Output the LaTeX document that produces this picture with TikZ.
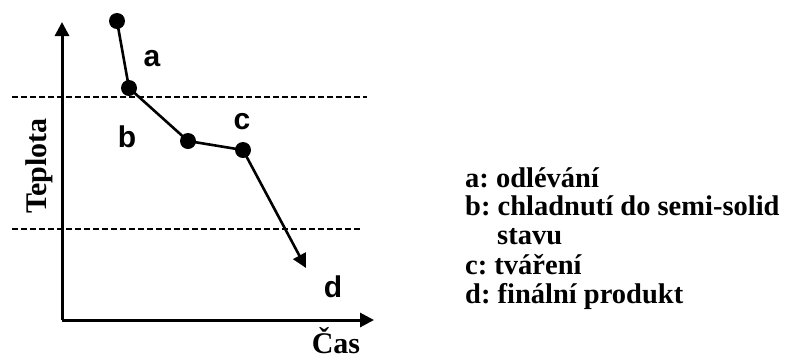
\documentclass[tikz,border=0pt]{standalone}
\usepackage{fontspec}
\setmainfont{Liberation Serif}
\newfontfamily\labfont{Liberation Sans}
\usetikzlibrary{arrows.meta}
\tikzset{
  axis/.style={line width=3pt, -{Triangle[length=14pt,width=14pt]}},
  limit/.style={line width=2.6pt, dash pattern=on 6pt off 3pt},
  curve/.style={line width=2.6pt},
  dot/.style={circle, fill=black, inner sep=0pt, minimum width=16pt, minimum height=14pt},
  seg/.style={font=\labfont\bfseries\fontsize{30}{30}\selectfont, inner sep=0pt},
  legend/.style={font=\bfseries\frenchspacing\fontsize{28.5}{29}\selectfont, anchor=base west, inner sep=0pt},
  axlabel/.style={font=\bfseries\fontsize{30}{30}\selectfont, inner sep=0pt}
}
\begin{document}
\begin{tikzpicture}[x=1pt,y=-1pt]
\useasboundingbox (0,0) rectangle (785,360);
% axes
\coordinate (o) at (62,320);
\coordinate (ytop) at (62,22);
\coordinate (xend) at (374,320);
\draw[axis] (o) -- (ytop);
\draw[axis] (o) -- (xend);
% dashed limits
\coordinate (l1a) at (12,97);
\coordinate (l1b) at (367,97);
\coordinate (l2a) at (12,229);
\coordinate (l2b) at (362,229);
\draw[limit] (l1a) -- (l1b);
\draw[limit] (l2a) -- (l2b);
% process points
\node[dot] (p1) at (117,21) {};
\node[dot] (p2) at (129,88) {};
\node[dot] (p3) at (188,141) {};
\node[dot] (p4) at (243,150) {};
\coordinate (p5) at (306,268);
\draw[curve] (p1.center) -- (p2.center) -- (p3.center) -- (p4.center);
\draw[curve, -{Triangle[length=14pt,width=14pt]}] (p4.center) -- (p5);
% segment labels
\node[seg] (la) at (152,59) {a};
\node[seg] (lb) at (127,137) {b};
\node[seg] (lc) at (242,122) {c};
\node[seg] (ld) at (333,287) {d};
% axis labels
\node[axlabel, rotate=90] (ty) at (39,166) {Teplota};
\node[axlabel, anchor=base] (tx) at (336,353) {Čas};
% legend
\node[legend] (g1) at (465,187) {a: odlévání};
\node[legend] (g2) at (465,215) {b: chladnutí do semi-solid};
\node[legend] (g3) at (497,244) {stavu};
\node[legend] (g4) at (465,274) {c: tváření};
\node[legend] (g5) at (465,303) {d: finální produkt};
\end{tikzpicture}
\end{document}
